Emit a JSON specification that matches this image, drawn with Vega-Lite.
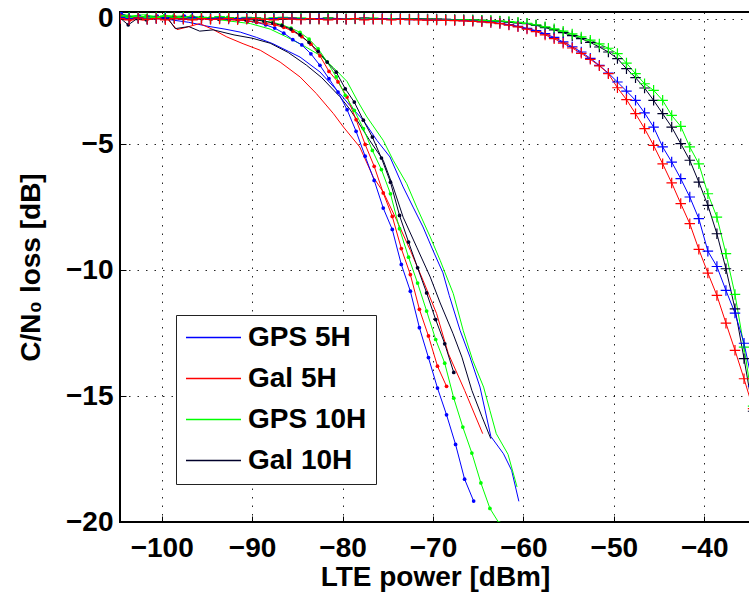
{
  "$schema": "https://vega.github.io/schema/vega-lite/v6.json",
  "width": 630,
  "height": 510,
  "autosize": {"type": "none"},
  "padding": {"left": 120, "top": 12, "right": 0, "bottom": 75},
  "background": "white",
  "config": {
    "font": "Liberation Sans",
    "view": {"stroke": "black", "strokeWidth": 2},
    "axis": {
      "labelFontSize": 28, "labelFontWeight": "bold", "labelColor": "black",
      "titleFontSize": 28, "titleFontWeight": "bold", "titleColor": "black",
      "domain": false, "ticks": true, "tickSize": -6, "tickColor": "black", "tickWidth": 1,
      "grid": true, "gridColor": "black",
      "gridDash": [1.5, 7], "gridWidth": 1, "gridOpacity": 0.85,
      "labelFlush": false, "labelOverlap": false
    }
  },
  "datasets": {
    "plain": [
      {"s":"GPS 5H","x":-104.6,"y":0.1},{"s":"GPS 5H","x":-103,"y":0},{"s":"GPS 5H","x":-101,"y":0.05},{"s":"GPS 5H","x":-99,"y":-0.05},{"s":"GPS 5H","x":-97,"y":-0.15},{"s":"GPS 5H","x":-95,"y":-0.3},{"s":"GPS 5H","x":-93,"y":-0.42},{"s":"GPS 5H","x":-91.3,"y":-0.54},{"s":"GPS 5H","x":-89.5,"y":-0.75},{"s":"GPS 5H","x":-87.7,"y":-1.0},{"s":"GPS 5H","x":-86,"y":-1.3},{"s":"GPS 5H","x":-84.7,"y":-1.53},{"s":"GPS 5H","x":-82.5,"y":-2.12},{"s":"GPS 5H","x":-80.3,"y":-2.98},{"s":"GPS 5H","x":-79.2,"y":-3.45},{"s":"GPS 5H","x":-77.7,"y":-4.04},{"s":"GPS 5H","x":-76.2,"y":-4.84},{"s":"GPS 5H","x":-74.75,"y":-5.5},{"s":"GPS 5H","x":-73.3,"y":-6.69},{"s":"GPS 5H","x":-72.2,"y":-7.49},{"s":"GPS 5H","x":-71.1,"y":-8.28},{"s":"GPS 5H","x":-70,"y":-9.21},{"s":"GPS 5H","x":-68.9,"y":-10.1},{"s":"GPS 5H","x":-68.2,"y":-11.0},{"s":"GPS 5H","x":-67,"y":-12.39},{"s":"GPS 5H","x":-65.9,"y":-13.45},{"s":"GPS 5H","x":-64.8,"y":-14.64},{"s":"GPS 5H","x":-63.6,"y":-16.6},{"s":"GPS 5H","x":-62.2,"y":-17.29},{"s":"GPS 5H","x":-61.3,"y":-17.95},{"s":"GPS 5H","x":-60.5,"y":-19.18},
      {"s":"Gal 5H","x":-104.6,"y":0.06},{"s":"Gal 5H","x":-103.5,"y":0.02},{"s":"Gal 5H","x":-102,"y":-0.07},{"s":"Gal 5H","x":-101,"y":0},{"s":"Gal 5H","x":-100.2,"y":0.06},{"s":"Gal 5H","x":-99.4,"y":0},{"s":"Gal 5H","x":-98.3,"y":-0.44},{"s":"Gal 5H","x":-97.2,"y":-0.34},{"s":"Gal 5H","x":-95.8,"y":-0.2},{"s":"Gal 5H","x":-94.3,"y":-0.44},{"s":"Gal 5H","x":-92.8,"y":-0.73},{"s":"Gal 5H","x":-91,"y":-1.0},{"s":"Gal 5H","x":-89.1,"y":-1.26},{"s":"Gal 5H","x":-86.9,"y":-1.73},{"s":"Gal 5H","x":-84.7,"y":-2.32},{"s":"Gal 5H","x":-82.9,"y":-2.98},{"s":"Gal 5H","x":-81,"y":-3.78},{"s":"Gal 5H","x":-79.9,"y":-4.31},{"s":"Gal 5H","x":-78.1,"y":-5.1},{"s":"Gal 5H","x":-76.6,"y":-6.3},{"s":"Gal 5H","x":-75.5,"y":-6.89},{"s":"Gal 5H","x":-74,"y":-8.02},{"s":"Gal 5H","x":-72.5,"y":-9.21},{"s":"Gal 5H","x":-71.1,"y":-10.4},{"s":"Gal 5H","x":-69.6,"y":-11.72},{"s":"Gal 5H","x":-68.3,"y":-13.31},{"s":"Gal 5H","x":-66.5,"y":-14.77},{"s":"Gal 5H","x":-64.5,"y":-16.49},
      {"s":"GPS 10H","x":-104.6,"y":0.2},{"s":"GPS 10H","x":-103.5,"y":0.1},{"s":"GPS 10H","x":-102,"y":0.15},{"s":"GPS 10H","x":-100,"y":0.05},{"s":"GPS 10H","x":-98,"y":0.1},{"s":"GPS 10H","x":-96,"y":0.02},{"s":"GPS 10H","x":-94.7,"y":0},{"s":"GPS 10H","x":-92.5,"y":-0.1},{"s":"GPS 10H","x":-90.2,"y":-0.2},{"s":"GPS 10H","x":-88,"y":-0.42},{"s":"GPS 10H","x":-86.2,"y":-0.73},{"s":"GPS 10H","x":-84.3,"y":-1.08},{"s":"GPS 10H","x":-82.5,"y":-1.46},{"s":"GPS 10H","x":-81,"y":-1.95},{"s":"GPS 10H","x":-79.5,"y":-2.5},{"s":"GPS 10H","x":-78.3,"y":-3.3},{"s":"GPS 10H","x":-77.3,"y":-3.91},{"s":"GPS 10H","x":-75.5,"y":-4.84},{"s":"GPS 10H","x":-74.4,"y":-5.63},{"s":"GPS 10H","x":-72.9,"y":-6.56},{"s":"GPS 10H","x":-71.8,"y":-7.49},{"s":"GPS 10H","x":-70.3,"y":-8.68},{"s":"GPS 10H","x":-69.2,"y":-9.61},{"s":"GPS 10H","x":-67.75,"y":-10.93},{"s":"GPS 10H","x":-66.65,"y":-12.4},{"s":"GPS 10H","x":-65.6,"y":-13.58},{"s":"GPS 10H","x":-64.4,"y":-14.64},{"s":"GPS 10H","x":-63.7,"y":-15.57},{"s":"GPS 10H","x":-63,"y":-16.49},{"s":"GPS 10H","x":-61.7,"y":-17.31},{"s":"GPS 10H","x":-60.7,"y":-18.61},
      {"s":"Gal 10H","x":-104.6,"y":0},{"s":"Gal 10H","x":-103,"y":0.05},{"s":"Gal 10H","x":-101.5,"y":-0.05},{"s":"Gal 10H","x":-100,"y":0.05},{"s":"Gal 10H","x":-99.4,"y":0.05},{"s":"Gal 10H","x":-98.5,"y":-0.4},{"s":"Gal 10H","x":-97,"y":-0.32},{"s":"Gal 10H","x":-95.8,"y":-0.5},{"s":"Gal 10H","x":-94.3,"y":-0.45},{"s":"Gal 10H","x":-92,"y":-0.65},{"s":"Gal 10H","x":-90,"y":-0.78},{"s":"Gal 10H","x":-88,"y":-0.98},{"s":"Gal 10H","x":-86,"y":-1.35},{"s":"Gal 10H","x":-84,"y":-1.85},{"s":"Gal 10H","x":-82.3,"y":-2.35},{"s":"Gal 10H","x":-80.3,"y":-3.1},{"s":"Gal 10H","x":-79.2,"y":-3.6},{"s":"Gal 10H","x":-78.4,"y":-4.04},{"s":"Gal 10H","x":-77,"y":-4.84},{"s":"Gal 10H","x":-75.5,"y":-5.63},{"s":"Gal 10H","x":-74.4,"y":-6.69},{"s":"Gal 10H","x":-73.3,"y":-7.89},{"s":"Gal 10H","x":-71.8,"y":-9.08},{"s":"Gal 10H","x":-70.3,"y":-10.27},{"s":"Gal 10H","x":-69.2,"y":-11.3},{"s":"Gal 10H","x":-67.8,"y":-12.5},{"s":"Gal 10H","x":-66.8,"y":-13.45},{"s":"Gal 10H","x":-65.7,"y":-14.77},{"s":"Gal 10H","x":-64.6,"y":-15.8},{"s":"Gal 10H","x":-63.6,"y":-16.69}
    ],
    "dot": [
      {"s":"GPS 5H","x":-104.5,"y":0.2},{"s":"GPS 5H","x":-103.5,"y":0.05},{"s":"GPS 5H","x":-102.5,"y":0.1},{"s":"GPS 5H","x":-101.5,"y":0.05},{"s":"GPS 5H","x":-100.5,"y":0.1},{"s":"GPS 5H","x":-99.5,"y":0.02},{"s":"GPS 5H","x":-98.5,"y":0.05},{"s":"GPS 5H","x":-97.5,"y":0.1},{"s":"GPS 5H","x":-96.5,"y":0.05},{"s":"GPS 5H","x":-95.5,"y":0.05},{"s":"GPS 5H","x":-94.5,"y":0},{"s":"GPS 5H","x":-93.5,"y":0.05},{"s":"GPS 5H","x":-92.5,"y":0},{"s":"GPS 5H","x":-91.5,"y":-0.05},{"s":"GPS 5H","x":-90.5,"y":-0.1},{"s":"GPS 5H","x":-89.5,"y":-0.15},{"s":"GPS 5H","x":-88.5,"y":-0.25},{"s":"GPS 5H","x":-87.5,"y":-0.38},{"s":"GPS 5H","x":-86.5,"y":-0.58},{"s":"GPS 5H","x":-85.5,"y":-0.84},{"s":"GPS 5H","x":-84.5,"y":-1.05},{"s":"GPS 5H","x":-83.5,"y":-1.4},{"s":"GPS 5H","x":-82.5,"y":-1.86},{"s":"GPS 5H","x":-81.5,"y":-2.39},{"s":"GPS 5H","x":-80.5,"y":-2.92},{"s":"GPS 5H","x":-79.5,"y":-3.62},{"s":"GPS 5H","x":-78.5,"y":-4.48},{"s":"GPS 5H","x":-77.5,"y":-5.47},{"s":"GPS 5H","x":-76.5,"y":-6.43},{"s":"GPS 5H","x":-75.5,"y":-7.53},{"s":"GPS 5H","x":-74.5,"y":-8.38},{"s":"GPS 5H","x":-73.5,"y":-9.77},{"s":"GPS 5H","x":-72.5,"y":-10.83},{"s":"GPS 5H","x":-71.5,"y":-12.28},{"s":"GPS 5H","x":-70.5,"y":-13.47},{"s":"GPS 5H","x":-69.5,"y":-14.68},{"s":"GPS 5H","x":-68.5,"y":-15.74},{"s":"GPS 5H","x":-67.5,"y":-16.92},{"s":"GPS 5H","x":-66.5,"y":-18.3},{"s":"GPS 5H","x":-65.5,"y":-19.17},
      {"s":"Gal 5H","x":-104.5,"y":0.1},{"s":"Gal 5H","x":-103.5,"y":-0.05},{"s":"Gal 5H","x":-102.5,"y":0.05},{"s":"Gal 5H","x":-101.5,"y":0},{"s":"Gal 5H","x":-100.5,"y":0.05},{"s":"Gal 5H","x":-99.5,"y":0.08},{"s":"Gal 5H","x":-98.5,"y":0.05},{"s":"Gal 5H","x":-97.5,"y":0},{"s":"Gal 5H","x":-96.5,"y":0.02},{"s":"Gal 5H","x":-95.5,"y":0},{"s":"Gal 5H","x":-94.5,"y":-0.02},{"s":"Gal 5H","x":-93.5,"y":0},{"s":"Gal 5H","x":-92.5,"y":-0.05},{"s":"Gal 5H","x":-91.5,"y":-0.05},{"s":"Gal 5H","x":-90.5,"y":-0.1},{"s":"Gal 5H","x":-89.5,"y":-0.15},{"s":"Gal 5H","x":-88.5,"y":-0.2},{"s":"Gal 5H","x":-87.5,"y":-0.25},{"s":"Gal 5H","x":-86.5,"y":-0.35},{"s":"Gal 5H","x":-85.5,"y":-0.5},{"s":"Gal 5H","x":-84.5,"y":-0.72},{"s":"Gal 5H","x":-83.5,"y":-1.02},{"s":"Gal 5H","x":-82.5,"y":-1.48},{"s":"Gal 5H","x":-81.5,"y":-2.1},{"s":"Gal 5H","x":-80.5,"y":-2.52},{"s":"Gal 5H","x":-79.5,"y":-3.12},{"s":"Gal 5H","x":-78.5,"y":-4.02},{"s":"Gal 5H","x":-77.5,"y":-5.0},{"s":"Gal 5H","x":-76.5,"y":-5.87},{"s":"Gal 5H","x":-75.5,"y":-6.93},{"s":"Gal 5H","x":-74.5,"y":-7.86},{"s":"Gal 5H","x":-73.5,"y":-9.14},{"s":"Gal 5H","x":-72.5,"y":-10.17},{"s":"Gal 5H","x":-71.5,"y":-11.55},{"s":"Gal 5H","x":-70.5,"y":-12.61},{"s":"Gal 5H","x":-69.5,"y":-13.81},{"s":"Gal 5H","x":-68.5,"y":-14.61},
      {"s":"GPS 10H","x":-104.7,"y":0.15},{"s":"GPS 10H","x":-103.7,"y":0.1},{"s":"GPS 10H","x":-102.7,"y":0.05},{"s":"GPS 10H","x":-101.7,"y":0.1},{"s":"GPS 10H","x":-100.7,"y":0.05},{"s":"GPS 10H","x":-99.7,"y":0.12},{"s":"GPS 10H","x":-98.7,"y":0.1},{"s":"GPS 10H","x":-97.7,"y":0.05},{"s":"GPS 10H","x":-96.7,"y":0.1},{"s":"GPS 10H","x":-95.7,"y":0.05},{"s":"GPS 10H","x":-94.7,"y":0.02},{"s":"GPS 10H","x":-93.7,"y":0},{"s":"GPS 10H","x":-92.7,"y":0.05},{"s":"GPS 10H","x":-91.7,"y":0},{"s":"GPS 10H","x":-90.7,"y":-0.02},{"s":"GPS 10H","x":-89.7,"y":-0.05},{"s":"GPS 10H","x":-88.7,"y":-0.1},{"s":"GPS 10H","x":-87.7,"y":-0.15},{"s":"GPS 10H","x":-86.7,"y":-0.25},{"s":"GPS 10H","x":-85.7,"y":-0.38},{"s":"GPS 10H","x":-84.7,"y":-0.55},{"s":"GPS 10H","x":-83.7,"y":-0.82},{"s":"GPS 10H","x":-82.7,"y":-1.2},{"s":"GPS 10H","x":-81.7,"y":-1.72},{"s":"GPS 10H","x":-80.7,"y":-2.32},{"s":"GPS 10H","x":-79.7,"y":-3.05},{"s":"GPS 10H","x":-78.7,"y":-3.65},{"s":"GPS 10H","x":-77.7,"y":-4.37},{"s":"GPS 10H","x":-76.7,"y":-5.24},{"s":"GPS 10H","x":-75.7,"y":-6.0},{"s":"GPS 10H","x":-74.7,"y":-6.96},{"s":"GPS 10H","x":-73.7,"y":-8.35},{"s":"GPS 10H","x":-72.7,"y":-9.48},{"s":"GPS 10H","x":-71.7,"y":-10.51},{"s":"GPS 10H","x":-70.7,"y":-11.62},{"s":"GPS 10H","x":-69.7,"y":-12.75},{"s":"GPS 10H","x":-68.7,"y":-13.69},{"s":"GPS 10H","x":-67.7,"y":-15.08},{"s":"GPS 10H","x":-66.7,"y":-16.23},{"s":"GPS 10H","x":-65.7,"y":-17.26},{"s":"GPS 10H","x":-64.7,"y":-18.45},{"s":"GPS 10H","x":-63.7,"y":-19.46},{"s":"GPS 10H","x":-62.7,"y":-20.04},
      {"s":"Gal 10H","x":-104.7,"y":0.05},{"s":"Gal 10H","x":-103.7,"y":-0.25},{"s":"Gal 10H","x":-102.7,"y":0},{"s":"Gal 10H","x":-101.7,"y":-0.05},{"s":"Gal 10H","x":-100.7,"y":0.02},{"s":"Gal 10H","x":-99.7,"y":0.05},{"s":"Gal 10H","x":-98.7,"y":0.02},{"s":"Gal 10H","x":-97.7,"y":0.05},{"s":"Gal 10H","x":-96.7,"y":0},{"s":"Gal 10H","x":-95.7,"y":0.02},{"s":"Gal 10H","x":-94.7,"y":0},{"s":"Gal 10H","x":-93.7,"y":-0.02},{"s":"Gal 10H","x":-92.7,"y":0},{"s":"Gal 10H","x":-91.7,"y":-0.02},{"s":"Gal 10H","x":-90.7,"y":-0.05},{"s":"Gal 10H","x":-89.7,"y":-0.05},{"s":"Gal 10H","x":-88.7,"y":-0.1},{"s":"Gal 10H","x":-87.7,"y":-0.18},{"s":"Gal 10H","x":-86.7,"y":-0.28},{"s":"Gal 10H","x":-85.7,"y":-0.42},{"s":"Gal 10H","x":-84.7,"y":-0.65},{"s":"Gal 10H","x":-83.7,"y":-0.95},{"s":"Gal 10H","x":-82.7,"y":-1.3},{"s":"Gal 10H","x":-81.7,"y":-1.73},{"s":"Gal 10H","x":-80.7,"y":-2.13},{"s":"Gal 10H","x":-79.7,"y":-2.79},{"s":"Gal 10H","x":-78.7,"y":-3.32},{"s":"Gal 10H","x":-77.7,"y":-4.04},{"s":"Gal 10H","x":-76.7,"y":-4.71},{"s":"Gal 10H","x":-75.7,"y":-5.54},{"s":"Gal 10H","x":-74.7,"y":-6.5},{"s":"Gal 10H","x":-73.7,"y":-7.82},{"s":"Gal 10H","x":-72.7,"y":-8.88},{"s":"Gal 10H","x":-71.7,"y":-9.9},{"s":"Gal 10H","x":-70.7,"y":-10.9},{"s":"Gal 10H","x":-69.7,"y":-11.96},{"s":"Gal 10H","x":-68.7,"y":-12.92},{"s":"Gal 10H","x":-67.7,"y":-14.06}
    ],
    "plus": [
      {"s":"Gal 10H","x":-104.6,"y":0},{"s":"Gal 10H","x":-103.6,"y":0.05},{"s":"Gal 10H","x":-102.6,"y":0},{"s":"Gal 10H","x":-101.6,"y":-0.03},{"s":"Gal 10H","x":-100.6,"y":0.02},{"s":"Gal 10H","x":-99.6,"y":0},{"s":"Gal 10H","x":-98.6,"y":0.03},{"s":"Gal 10H","x":-97.6,"y":-0.02},{"s":"Gal 10H","x":-96.6,"y":0},{"s":"Gal 10H","x":-95.6,"y":0.02},{"s":"Gal 10H","x":-94.6,"y":-0.02},{"s":"Gal 10H","x":-93.6,"y":0},{"s":"Gal 10H","x":-92.6,"y":0.03},{"s":"Gal 10H","x":-91.6,"y":0},{"s":"Gal 10H","x":-90.6,"y":-0.02},{"s":"Gal 10H","x":-89.6,"y":0.02},{"s":"Gal 10H","x":-88.6,"y":0},{"s":"Gal 10H","x":-87.6,"y":0},{"s":"Gal 10H","x":-86.6,"y":-0.02},{"s":"Gal 10H","x":-85.6,"y":0.02},{"s":"Gal 10H","x":-84.6,"y":0},{"s":"Gal 10H","x":-83.6,"y":-0.02},{"s":"Gal 10H","x":-82.6,"y":0},{"s":"Gal 10H","x":-81.6,"y":0.02},{"s":"Gal 10H","x":-80.6,"y":0},{"s":"Gal 10H","x":-79.6,"y":-0.03},{"s":"Gal 10H","x":-78.6,"y":0},{"s":"Gal 10H","x":-77.6,"y":0.02},{"s":"Gal 10H","x":-76.6,"y":0},{"s":"Gal 10H","x":-75.6,"y":-0.02},{"s":"Gal 10H","x":-74.6,"y":0},{"s":"Gal 10H","x":-73.6,"y":0},{"s":"Gal 10H","x":-72.6,"y":-0.02},{"s":"Gal 10H","x":-71.6,"y":0},{"s":"Gal 10H","x":-70.6,"y":-0.02},
      {"s":"Gal 10H","x":-69.6,"y":-0.02},{"s":"Gal 10H","x":-68.6,"y":-0.03},{"s":"Gal 10H","x":-67.6,"y":-0.04},{"s":"Gal 10H","x":-66.6,"y":-0.05},{"s":"Gal 10H","x":-65.6,"y":-0.06},{"s":"Gal 10H","x":-64.6,"y":-0.07},{"s":"Gal 10H","x":-63.6,"y":-0.09},{"s":"Gal 10H","x":-62.6,"y":-0.11},{"s":"Gal 10H","x":-61.6,"y":-0.14},{"s":"Gal 10H","x":-60.6,"y":-0.17},{"s":"Gal 10H","x":-59.6,"y":-0.2},{"s":"Gal 10H","x":-58.6,"y":-0.27},{"s":"Gal 10H","x":-57.6,"y":-0.36},{"s":"Gal 10H","x":-56.6,"y":-0.45},{"s":"Gal 10H","x":-55.6,"y":-0.56},{"s":"Gal 10H","x":-54.6,"y":-0.68},{"s":"Gal 10H","x":-53.6,"y":-0.8},{"s":"Gal 10H","x":-52.6,"y":-0.95},{"s":"Gal 10H","x":-51.6,"y":-1.13},{"s":"Gal 10H","x":-50.6,"y":-1.33},{"s":"Gal 10H","x":-49.6,"y":-1.59},{"s":"Gal 10H","x":-48.6,"y":-1.99},{"s":"Gal 10H","x":-47.6,"y":-2.35},{"s":"Gal 10H","x":-46.6,"y":-2.76},{"s":"Gal 10H","x":-45.6,"y":-3.25},{"s":"Gal 10H","x":-44.6,"y":-3.78},{"s":"Gal 10H","x":-43.6,"y":-4.31},{"s":"Gal 10H","x":-42.6,"y":-4.97},{"s":"Gal 10H","x":-41.6,"y":-5.63},{"s":"Gal 10H","x":-40.6,"y":-6.5},{"s":"Gal 10H","x":-39.6,"y":-7.42},{"s":"Gal 10H","x":-38.6,"y":-8.55},{"s":"Gal 10H","x":-37.6,"y":-9.94},{"s":"Gal 10H","x":-36.6,"y":-11.53},{"s":"Gal 10H","x":-35.6,"y":-13.51},{"s":"Gal 10H","x":-34.6,"y":-15.6},
      {"s":"GPS 10H","x":-104.6,"y":0.1},{"s":"GPS 10H","x":-103.6,"y":0.05},{"s":"GPS 10H","x":-102.6,"y":0.08},{"s":"GPS 10H","x":-101.6,"y":0.02},{"s":"GPS 10H","x":-100.6,"y":0.05},{"s":"GPS 10H","x":-99.6,"y":0.1},{"s":"GPS 10H","x":-98.6,"y":0.03},{"s":"GPS 10H","x":-97.6,"y":0.05},{"s":"GPS 10H","x":-96.6,"y":0},{"s":"GPS 10H","x":-95.6,"y":0.05},{"s":"GPS 10H","x":-94.6,"y":0.02},{"s":"GPS 10H","x":-93.6,"y":0.08},{"s":"GPS 10H","x":-92.6,"y":0.03},{"s":"GPS 10H","x":-91.6,"y":0},{"s":"GPS 10H","x":-90.6,"y":0.05},{"s":"GPS 10H","x":-89.6,"y":0.02},{"s":"GPS 10H","x":-88.6,"y":0},{"s":"GPS 10H","x":-87.6,"y":0.03},{"s":"GPS 10H","x":-86.6,"y":0.05},{"s":"GPS 10H","x":-85.6,"y":0},{"s":"GPS 10H","x":-84.6,"y":0.02},{"s":"GPS 10H","x":-83.6,"y":0},{"s":"GPS 10H","x":-82.6,"y":-0.02},{"s":"GPS 10H","x":-81.6,"y":0.02},{"s":"GPS 10H","x":-80.6,"y":0},{"s":"GPS 10H","x":-79.6,"y":0},{"s":"GPS 10H","x":-78.6,"y":-0.02},{"s":"GPS 10H","x":-77.6,"y":0},{"s":"GPS 10H","x":-76.6,"y":0.02},{"s":"GPS 10H","x":-75.6,"y":-0.02},{"s":"GPS 10H","x":-74.6,"y":0},{"s":"GPS 10H","x":-73.6,"y":-0.02},{"s":"GPS 10H","x":-72.6,"y":-0.03},{"s":"GPS 10H","x":-71.6,"y":-0.02},{"s":"GPS 10H","x":-70.6,"y":-0.03},
      {"s":"GPS 10H","x":-69.6,"y":-0.03},{"s":"GPS 10H","x":-68.6,"y":-0.04},{"s":"GPS 10H","x":-67.6,"y":-0.05},{"s":"GPS 10H","x":-66.6,"y":-0.05},{"s":"GPS 10H","x":-65.6,"y":-0.06},{"s":"GPS 10H","x":-64.6,"y":-0.07},{"s":"GPS 10H","x":-63.6,"y":-0.08},{"s":"GPS 10H","x":-62.6,"y":-0.1},{"s":"GPS 10H","x":-61.6,"y":-0.12},{"s":"GPS 10H","x":-60.6,"y":-0.15},{"s":"GPS 10H","x":-59.6,"y":-0.19},{"s":"GPS 10H","x":-58.6,"y":-0.25},{"s":"GPS 10H","x":-57.6,"y":-0.33},{"s":"GPS 10H","x":-56.6,"y":-0.41},{"s":"GPS 10H","x":-55.6,"y":-0.5},{"s":"GPS 10H","x":-54.6,"y":-0.61},{"s":"GPS 10H","x":-53.6,"y":-0.73},{"s":"GPS 10H","x":-52.6,"y":-0.86},{"s":"GPS 10H","x":-51.6,"y":-1.01},{"s":"GPS 10H","x":-50.6,"y":-1.18},{"s":"GPS 10H","x":-49.6,"y":-1.39},{"s":"GPS 10H","x":-48.6,"y":-1.77},{"s":"GPS 10H","x":-47.6,"y":-2.19},{"s":"GPS 10H","x":-46.6,"y":-2.59},{"s":"GPS 10H","x":-45.6,"y":-2.85},{"s":"GPS 10H","x":-44.6,"y":-3.25},{"s":"GPS 10H","x":-43.6,"y":-3.85},{"s":"GPS 10H","x":-42.6,"y":-4.28},{"s":"GPS 10H","x":-41.6,"y":-5.1},{"s":"GPS 10H","x":-40.6,"y":-5.77},{"s":"GPS 10H","x":-39.6,"y":-6.96},{"s":"GPS 10H","x":-38.6,"y":-7.89},{"s":"GPS 10H","x":-37.6,"y":-9.34},{"s":"GPS 10H","x":-36.6,"y":-10.96},{"s":"GPS 10H","x":-35.6,"y":-13.05},{"s":"GPS 10H","x":-34.6,"y":-15.4},
      {"s":"GPS 5H","x":-104.6,"y":0.05},{"s":"GPS 5H","x":-103.6,"y":0},{"s":"GPS 5H","x":-102.6,"y":0.03},{"s":"GPS 5H","x":-101.6,"y":-0.02},{"s":"GPS 5H","x":-100.6,"y":0},{"s":"GPS 5H","x":-99.6,"y":0.02},{"s":"GPS 5H","x":-98.6,"y":0},{"s":"GPS 5H","x":-97.6,"y":-0.02},{"s":"GPS 5H","x":-96.6,"y":0.03},{"s":"GPS 5H","x":-95.6,"y":0},{"s":"GPS 5H","x":-94.6,"y":0},{"s":"GPS 5H","x":-93.6,"y":0.02},{"s":"GPS 5H","x":-92.6,"y":-0.02},{"s":"GPS 5H","x":-91.6,"y":0},{"s":"GPS 5H","x":-90.6,"y":0.02},{"s":"GPS 5H","x":-89.6,"y":0},{"s":"GPS 5H","x":-88.6,"y":-0.03},{"s":"GPS 5H","x":-87.6,"y":0},{"s":"GPS 5H","x":-86.6,"y":0.02},{"s":"GPS 5H","x":-85.6,"y":0},{"s":"GPS 5H","x":-84.6,"y":-0.02},{"s":"GPS 5H","x":-83.6,"y":0},{"s":"GPS 5H","x":-82.6,"y":0},{"s":"GPS 5H","x":-81.6,"y":-0.03},{"s":"GPS 5H","x":-80.6,"y":0},{"s":"GPS 5H","x":-79.6,"y":-0.02},{"s":"GPS 5H","x":-78.6,"y":0},{"s":"GPS 5H","x":-77.6,"y":-0.03},{"s":"GPS 5H","x":-76.6,"y":-0.02},{"s":"GPS 5H","x":-75.6,"y":0},{"s":"GPS 5H","x":-74.6,"y":-0.03},{"s":"GPS 5H","x":-73.6,"y":-0.02},{"s":"GPS 5H","x":-72.6,"y":-0.04},{"s":"GPS 5H","x":-71.6,"y":-0.03},{"s":"GPS 5H","x":-70.6,"y":-0.05},
      {"s":"GPS 5H","x":-69.6,"y":-0.05},{"s":"GPS 5H","x":-68.6,"y":-0.06},{"s":"GPS 5H","x":-67.6,"y":-0.07},{"s":"GPS 5H","x":-66.6,"y":-0.08},{"s":"GPS 5H","x":-65.6,"y":-0.1},{"s":"GPS 5H","x":-64.6,"y":-0.12},{"s":"GPS 5H","x":-63.6,"y":-0.15},{"s":"GPS 5H","x":-62.6,"y":-0.19},{"s":"GPS 5H","x":-61.6,"y":-0.24},{"s":"GPS 5H","x":-60.6,"y":-0.31},{"s":"GPS 5H","x":-59.6,"y":-0.39},{"s":"GPS 5H","x":-58.6,"y":-0.48},{"s":"GPS 5H","x":-57.6,"y":-0.6},{"s":"GPS 5H","x":-56.6,"y":-0.75},{"s":"GPS 5H","x":-55.6,"y":-0.93},{"s":"GPS 5H","x":-54.6,"y":-1.12},{"s":"GPS 5H","x":-53.6,"y":-1.33},{"s":"GPS 5H","x":-52.6,"y":-1.58},{"s":"GPS 5H","x":-51.6,"y":-1.86},{"s":"GPS 5H","x":-50.6,"y":-2.17},{"s":"GPS 5H","x":-49.6,"y":-2.52},{"s":"GPS 5H","x":-48.6,"y":-2.88},{"s":"GPS 5H","x":-47.6,"y":-3.25},{"s":"GPS 5H","x":-46.6,"y":-3.75},{"s":"GPS 5H","x":-45.6,"y":-4.31},{"s":"GPS 5H","x":-44.6,"y":-5.1},{"s":"GPS 5H","x":-43.6,"y":-5.7},{"s":"GPS 5H","x":-42.6,"y":-6.36},{"s":"GPS 5H","x":-41.6,"y":-7.09},{"s":"GPS 5H","x":-40.6,"y":-7.95},{"s":"GPS 5H","x":-39.6,"y":-9.24},{"s":"GPS 5H","x":-38.6,"y":-9.85},{"s":"GPS 5H","x":-37.6,"y":-10.8},{"s":"GPS 5H","x":-36.6,"y":-11.7},{"s":"GPS 5H","x":-35.6,"y":-12.9},{"s":"GPS 5H","x":-34.6,"y":-14.6},
      {"s":"Gal 5H","x":-104.6,"y":0},{"s":"Gal 5H","x":-103.6,"y":-0.05},{"s":"Gal 5H","x":-102.6,"y":0.02},{"s":"Gal 5H","x":-101.6,"y":-0.03},{"s":"Gal 5H","x":-100.6,"y":0},{"s":"Gal 5H","x":-99.6,"y":-0.05},{"s":"Gal 5H","x":-98.6,"y":0},{"s":"Gal 5H","x":-97.6,"y":-0.02},{"s":"Gal 5H","x":-96.6,"y":-0.05},{"s":"Gal 5H","x":-95.6,"y":0},{"s":"Gal 5H","x":-94.6,"y":-0.03},{"s":"Gal 5H","x":-93.6,"y":-0.02},{"s":"Gal 5H","x":-92.6,"y":0},{"s":"Gal 5H","x":-91.6,"y":-0.05},{"s":"Gal 5H","x":-90.6,"y":-0.02},{"s":"Gal 5H","x":-89.6,"y":0},{"s":"Gal 5H","x":-88.6,"y":-0.03},{"s":"Gal 5H","x":-87.6,"y":-0.05},{"s":"Gal 5H","x":-86.6,"y":0},{"s":"Gal 5H","x":-85.6,"y":-0.02},{"s":"Gal 5H","x":-84.6,"y":-0.04},{"s":"Gal 5H","x":-83.6,"y":0},{"s":"Gal 5H","x":-82.6,"y":-0.03},{"s":"Gal 5H","x":-81.6,"y":-0.05},{"s":"Gal 5H","x":-80.6,"y":-0.02},{"s":"Gal 5H","x":-79.6,"y":-0.03},{"s":"Gal 5H","x":-78.6,"y":0},{"s":"Gal 5H","x":-77.6,"y":-0.05},{"s":"Gal 5H","x":-76.6,"y":-0.03},{"s":"Gal 5H","x":-75.6,"y":-0.02},{"s":"Gal 5H","x":-74.6,"y":-0.05},{"s":"Gal 5H","x":-73.6,"y":-0.03},{"s":"Gal 5H","x":-72.6,"y":-0.04},{"s":"Gal 5H","x":-71.6,"y":-0.05},{"s":"Gal 5H","x":-70.6,"y":-0.06},
      {"s":"Gal 5H","x":-69.6,"y":-0.06},{"s":"Gal 5H","x":-68.6,"y":-0.07},{"s":"Gal 5H","x":-67.6,"y":-0.08},{"s":"Gal 5H","x":-66.6,"y":-0.09},{"s":"Gal 5H","x":-65.6,"y":-0.11},{"s":"Gal 5H","x":-64.6,"y":-0.13},{"s":"Gal 5H","x":-63.6,"y":-0.16},{"s":"Gal 5H","x":-62.6,"y":-0.2},{"s":"Gal 5H","x":-61.6,"y":-0.26},{"s":"Gal 5H","x":-60.6,"y":-0.33},{"s":"Gal 5H","x":-59.6,"y":-0.42},{"s":"Gal 5H","x":-58.6,"y":-0.52},{"s":"Gal 5H","x":-57.6,"y":-0.65},{"s":"Gal 5H","x":-56.6,"y":-0.8},{"s":"Gal 5H","x":-55.6,"y":-0.98},{"s":"Gal 5H","x":-54.6,"y":-1.17},{"s":"Gal 5H","x":-53.6,"y":-1.38},{"s":"Gal 5H","x":-52.6,"y":-1.62},{"s":"Gal 5H","x":-51.6,"y":-1.88},{"s":"Gal 5H","x":-50.6,"y":-2.19},{"s":"Gal 5H","x":-49.6,"y":-2.75},{"s":"Gal 5H","x":-48.6,"y":-3.22},{"s":"Gal 5H","x":-47.6,"y":-3.78},{"s":"Gal 5H","x":-46.6,"y":-4.37},{"s":"Gal 5H","x":-45.6,"y":-5.04},{"s":"Gal 5H","x":-44.6,"y":-5.77},{"s":"Gal 5H","x":-43.6,"y":-6.53},{"s":"Gal 5H","x":-42.6,"y":-7.35},{"s":"Gal 5H","x":-41.6,"y":-8.15},{"s":"Gal 5H","x":-40.6,"y":-9.17},{"s":"Gal 5H","x":-39.6,"y":-10.11},{"s":"Gal 5H","x":-38.6,"y":-11.0},{"s":"Gal 5H","x":-37.6,"y":-12.1},{"s":"Gal 5H","x":-36.6,"y":-13.18},{"s":"Gal 5H","x":-35.6,"y":-14.31},{"s":"Gal 5H","x":-34.6,"y":-15.5}
    ]
  },
  "encoding": {
    "x": {
      "field": "x", "type": "quantitative",
      "scale": {"domain": [-104.61, -34.94], "nice": false, "zero": false},
      "axis": {"values": [-100, -90, -80, -70, -60, -50, -40], "title": "LTE power [dBm]", "labelPadding": 18, "labelDx": -8, "titlePadding": 1}
    },
    "y": {
      "field": "y", "type": "quantitative",
      "scale": {"domain": [-20, 0.26], "nice": false, "zero": false},
      "axis": {"values": [0, -5, -10, -15, -20], "title": "C/N₀ loss [dB]", "labelPadding": 13, "titlePadding": 20}
    }
  },
  "layer": [
    {
      "data": {"name": "plain"},
      "mark": {"type": "line", "strokeWidth": 1, "clip": true},
      "encoding": {
        "color": {
          "field": "s", "type": "nominal",
          "scale": {"domain": ["GPS 5H", "Gal 5H", "GPS 10H", "Gal 10H"], "range": ["#0000ff", "#ff0000", "#00ff00", "#00002a"]},
          "legend": {
            "orient": "none", "legendX": 56, "legendY": 303, "title": null,
            "symbolType": "stroke", "symbolSize": 3025, "symbolStrokeWidth": 1.5,
            "clipHeight": 27, "rowPadding": 12, "padding": 9,
            "labelFontSize": 28, "labelFontWeight": "bold", "labelColor": "black", "labelOffset": 6, "labelLimit": 300,
            "strokeColor": "#222222", "fillColor": "white"
          }
        }
      }
    },
    {
      "data": {"name": "dot"},
      "mark": {"type": "line", "strokeWidth": 1, "clip": true, "point": {"filled": true, "size": 14, "opacity": 1}},
      "encoding": {
        "color": {"field": "s", "type": "nominal", "scale": {"domain": ["GPS 5H", "Gal 5H", "GPS 10H", "Gal 10H"], "range": ["#0000ff", "#ff0000", "#00ff00", "#00002a"]}, "legend": null}
      }
    },
    {
      "data": {"name": "plus"},
      "mark": {"type": "line", "strokeWidth": 1, "clip": true, "point": {"shape": "M-1,0L1,0M0,-1L0,1", "filled": false, "size": 110, "strokeWidth": 1.2, "opacity": 1}},
      "encoding": {
        "color": {"field": "s", "type": "nominal", "scale": {"domain": ["GPS 5H", "Gal 5H", "GPS 10H", "Gal 10H"], "range": ["#0000ff", "#ff0000", "#00ff00", "#00002a"]}, "legend": null}
      }
    }
  ]
}
